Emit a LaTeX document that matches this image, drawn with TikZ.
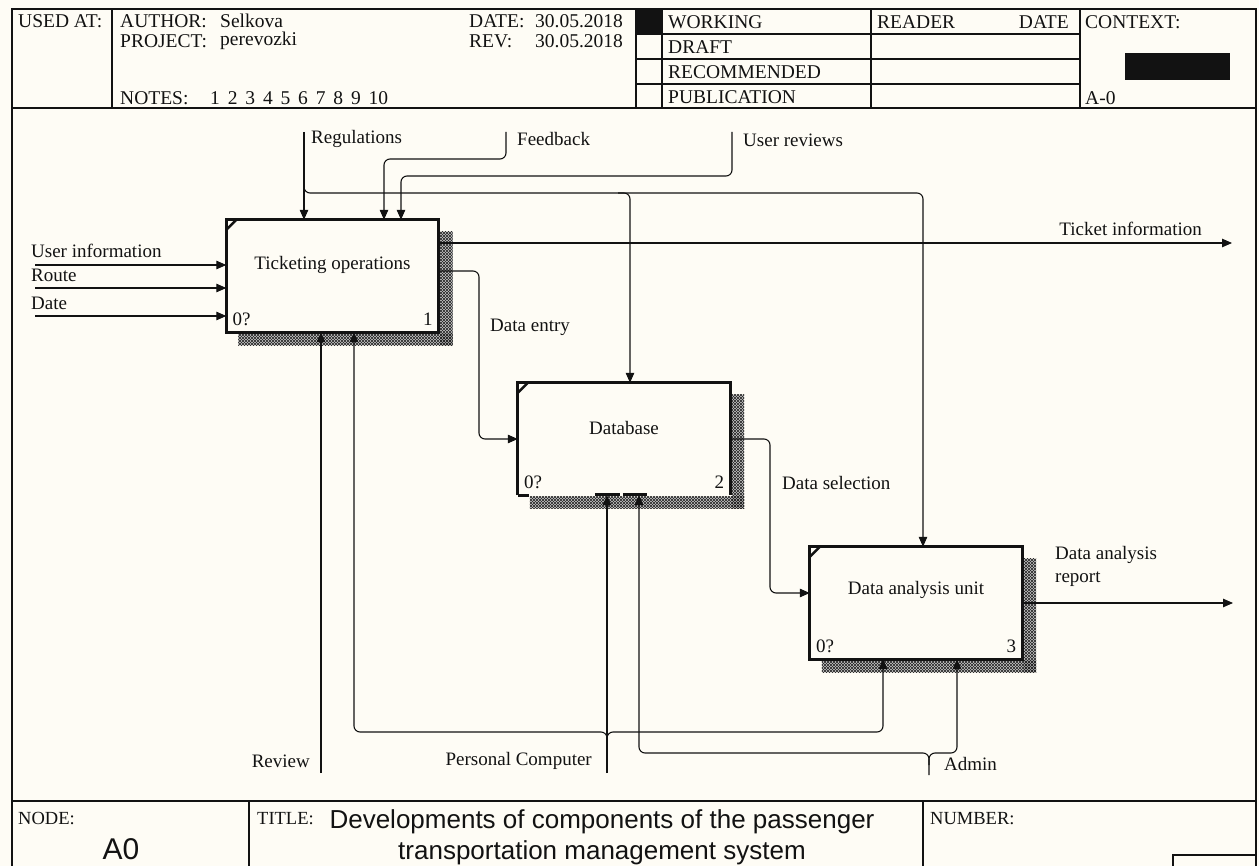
\documentclass[tikz,border=0pt]{standalone}
\usepackage{fontspec}
\setmainfont{Liberation Serif}
\newfontfamily\titlesans{Liberation Sans}
\usetikzlibrary{arrows.meta,calc,patterns}

\definecolor{paper}{RGB}{254,252,245}
\definecolor{ink}{RGB}{18,18,18}

% hatched drop shadow on the right and bottom of an activity box
\newcommand\boxshade[1]{%
  \foreach \st in {shadeBase,shadeA,shadeB}{%
    \fill[\st] ($(#1.north east)+(1.5,12)$) rectangle ($(#1.south east)+(14,13)$);
    \fill[\st] ($(#1.south west)+(12,1.5)$) rectangle ($(#1.south east)+(14,13)$);
  }%
}

\begin{document}
\begin{tikzpicture}[x=1pt,y=-1pt,
  lbl/.style={inner sep=0pt, text=ink, font=\fontsize{19}{22}\selectfont},
  hdr/.style={inner sep=0pt, text=ink, anchor=west, font=\fontsize{19.5}{22}\selectfont},
  small/.style={inner sep=0pt, text=ink, anchor=west, font=\fontsize{18.5}{20}\selectfont},
  rule/.style={draw=ink, line width=1.5pt},
  act/.style={inner sep=0pt, minimum width=212pt, minimum height=112pt},
  outline/.style={draw=ink, line width=3pt},
  flow/.style={draw=ink, line width=1.1pt, rounded corners=6pt},
  tip/.style={-{Triangle[length=10pt,width=8.5pt]}},
  shadeBase/.style={fill=black!22},
  shadeA/.style={pattern=north east lines, pattern color=black!85},
  shadeB/.style={pattern=north west lines, pattern color=black!85},
  corner/.style={draw=ink, line width=2.5pt},
  ttl/.style={inner sep=0pt, text=ink, anchor=base, font=\titlesans\fontsize{26}{30}\selectfont},
]
\fill[paper] (0,0) rectangle (1259,866);
\useasboundingbox (0,0) rectangle (1259,866);

% ---------- outer frame and header ----------
\draw[rule] (12,866) -- (12,9) -- (1256,9) -- (1256,866);
\draw[rule] (12,108) -- (1256,108);
\draw[rule] (112,9) -- (112,108);
\draw[rule] (636,9) -- (636,108);
\draw[rule] (662,9) -- (662,108);
\draw[rule] (871,9) -- (871,108);
\draw[rule] (1080,9) -- (1080,108);
\foreach \yy in {34,59,84} \draw[rule] (636,\yy) -- (1080,\yy);
\fill[ink] (636,9) rectangle (662,34);
\fill[ink] (1125,53) rectangle (1230,80);

\node[hdr] at (18,21) {USED AT:};
\node[hdr] at (120,21) {AUTHOR:};
\node[hdr] at (220,21) {Selkova};
\node[hdr] at (120,41) {PROJECT:};
\node[hdr] at (220,41) {perevozki};
\node[hdr] (notes) at (120,98) {NOTES:};
\foreach \n [count=\i] in {1,2,3,4,5,6,7,8,9,10}
  \node[hdr] at (210+17.6*\i-17.6,98) {\n};
\node[hdr] at (469,21) {DATE:};
\node[hdr] at (535,21) {30.05.2018};
\node[hdr] at (469,41) {REV:};
\node[hdr] at (535,41) {30.05.2018};
\node[hdr] at (668,22) {WORKING};
\node[hdr] at (668,47) {DRAFT};
\node[hdr] at (668,72) {RECOMMENDED};
\node[hdr] at (668,97) {PUBLICATION};
\node[hdr] at (877,22) {READER};
\node[hdr, anchor=east] at (1069,22) {DATE};
\node[hdr] at (1085,22) {CONTEXT:};
\node[hdr] at (1085,98) {A-0};

% ---------- activity boxes ----------
\node[act] (b1) at (332.5,276) {};
\node[act] (b2) at (624,439) {};
\node[act] (b3) at (916,603) {};
\boxshade{b1}
\boxshade{b2}
\boxshade{b3}
\draw[outline] (b1.north west) rectangle (b1.south east);
\draw[outline] (b3.north west) rectangle (b3.south east);
% database outline: bottom edge only in short pieces
\draw[outline] (b2.south west) |- (b2.north east) -- (b2.south east);
\draw[outline] (b2.south west) -- +(11,0);
\draw[outline] ($(b2.south west)+(77,-1)$) -- +(25,0);
\draw[outline] ($(b2.south west)+(105,-1)$) -- +(24,0);

\foreach \b in {b1,b2,b3}
  \draw[corner] ($(\b.north west)+(0,10)$) -- ($(\b.north west)+(10,0)$);

\node[lbl] at ($(b1.center)+(0,-11)$) {Ticketing operations};
\node[lbl] at ($(b2.center)+(0,-11)$) {Database};
\node[lbl] at ($(b3.center)+(0,-13)$) {Data analysis unit};
\foreach \b/\k in {b1/1,b2/2,b3/3}{
  \node[lbl, anchor=west] at ($(\b.south west)+(6,-13)$) {0?};
  \node[lbl, anchor=east] at ($(\b.south east)+(-6,-13)$) {\k};
}

% ---------- inputs ----------
\coordinate (uiSrc) at (35,265);
\coordinate (rtSrc) at (35,288);
\coordinate (dtSrc) at (35,316);
\draw[flow,tip] (uiSrc) -- (uiSrc -| b1.west);
\draw[flow,tip] (rtSrc) -- (rtSrc -| b1.west);
\draw[flow,tip] (dtSrc) -- (dtSrc -| b1.west);
\node[lbl, anchor=west] at (31,251) {User information};
\node[lbl, anchor=west] at (31,275) {Route};
\node[lbl, anchor=west] at (31,303) {Date};

% ---------- controls ----------
\coordinate (regSrc) at (304,132);
\coordinate (regBr) at (304,184);
\coordinate (brDB) at (630,193);
\coordinate (brDA) at (923,193);
\coordinate (fbSrc) at (506,132);
\coordinate (fbDrop) at (384,159);
\coordinate (urSrc) at (732,132);
\coordinate (urDrop) at (401,176);
\draw[flow,tip] (regSrc) -- (regSrc |- b1.north);
\draw[flow,tip] (regBr) |- (brDA) -- (brDA |- b3.north);
\draw[flow,tip] ($(brDB)+(-12,0)$) -| (brDB |- b2.north);
\draw[flow,tip] (fbSrc) |- (fbDrop) -- (fbDrop |- b1.north);
\draw[flow,tip] (urSrc) |- (urDrop) -- (urDrop |- b1.north);
\node[lbl, anchor=west] at (311,139) {Regulations};
\node[lbl, anchor=west] at (517,139) {Feedback};
\node[lbl, anchor=west] at (743,140) {User reviews};

% ---------- outputs ----------
\coordinate (tiEnd) at (1232,243);
\coordinate (deBend) at (479,271);
\coordinate (dsBend) at (770,593);
\coordinate (darEnd) at (1233,603);
\draw[flow,tip] (tiEnd -| b1.east) -- (tiEnd);
\draw[flow,tip] (deBend -| b1.east) -| (b2.west -| deBend) -- (b2.west);
\draw[flow,tip] (b2.east) -| (dsBend) -- (dsBend -| b3.west);
\draw[flow,tip] (darEnd -| b3.east) -- (darEnd);
\node[lbl, anchor=east] at (1202,229) {Ticket information};
\node[lbl, anchor=west] at (490,327) {Data entry};
\node[lbl, anchor=west] at (782,483) {Data selection};
\node[lbl, anchor=west] at (1055,555) {Data analysis};
\node[lbl, anchor=west] at (1055,579) {report};

% ---------- mechanisms ----------
\coordinate (revSrc) at (321,773);
\coordinate (pcSrc) at (607,773);
\coordinate (pcJ) at (607,745);
\coordinate (pcL) at (354,732);
\coordinate (pcR) at (883,732);
\coordinate (adSrc) at (929,775);
\coordinate (adJ) at (929,765);
\coordinate (adL) at (639,753);
\coordinate (adR) at (957,753);
\draw[flow,tip] (revSrc) -- (revSrc |- b1.south);
\draw[flow,tip] (pcSrc) -- (pcSrc |- b2.south);
\draw[flow,tip] (pcJ) |- (pcL) -- (pcL |- b1.south);
\draw[flow,tip] (pcJ) |- (pcR) -- (pcR |- b3.south);
\draw[flow,tip] (adSrc) |- (adL) -- (adL |- b2.south);
\draw[flow,tip] (adJ) |- (adR) -- (adR |- b3.south);
\node[lbl, anchor=east] at (310,761) {Review};
\node[lbl, anchor=east] at (592,761) {Personal Computer};
\node[lbl, anchor=west] at (944,764) {Admin};

% ---------- title block ----------
\draw[rule] (12,801) -- (1256,801);
\draw[rule] (249,801) -- (249,866);
\draw[rule] (923,801) -- (923,866);
\draw[rule] (1173,866) |- (1256,855);
\node[small] at (18,819) {NODE:};
\node[small] at (257,819) {TITLE:};
\node[small] at (930,819) {NUMBER:};
\node[inner sep=0pt, text=ink, anchor=base, font=\titlesans\fontsize{30}{34}\selectfont] at (121,859) {A0};
\node[ttl] at (602,828) {Developments of components of the passenger};
\node[ttl] at (602,859) {transportation management system};
\end{tikzpicture}
\end{document}
